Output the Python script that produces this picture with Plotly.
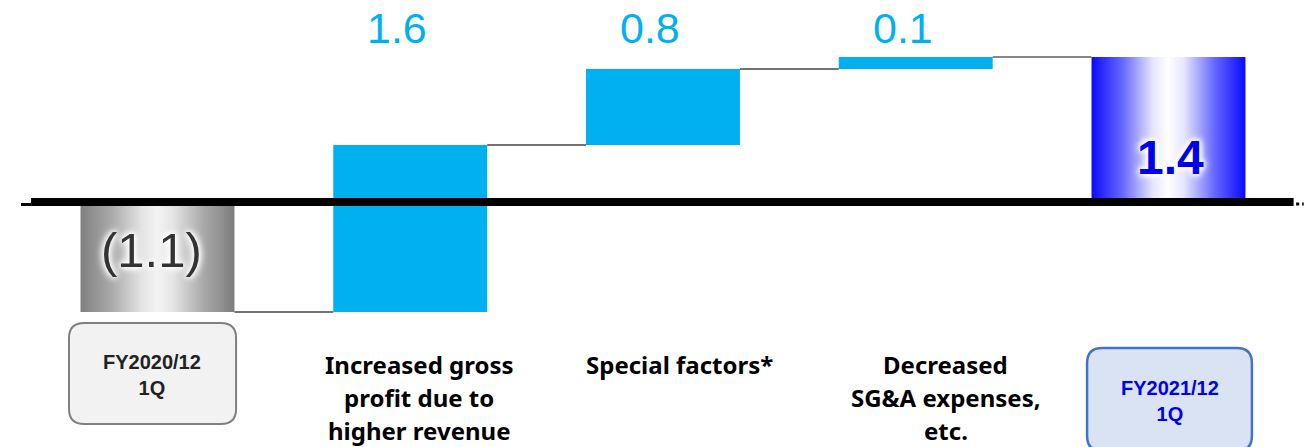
import numpy as np
import plotly.graph_objects as go

# ---- data ----
categories = ["FY2020/12<br>1Q",
              "Increased gross<br>profit due to<br>higher revenue",
              "Special factors*",
              "Decreased<br>SG&A expenses,<br>etc.",
              "FY2021/12<br>1Q"]
start_value = -1.1
delta_values = [1.67, 0.76, 0.12]
total_value = 1.45
value_labels = ["(1.1)", "1.6", "0.8", "0.1", "1.4"]

# ---- derived ----
W = 0.609
levels = np.cumsum([start_value] + delta_values)      # level after each bar
bases = levels[:-1]
xs = np.arange(len(categories))

CYAN = "#00B0F0"
NARROW = "Liberation Sans Narrow, Arial Narrow, Liberation Sans, Arial"

fig = go.Figure()

def grad_bar(xc, y0, y1, scale):
    return go.Scatter(
        x=[xc - W / 2, xc + W / 2, xc + W / 2, xc - W / 2, xc - W / 2],
        y=[y0, y0, y1, y1, y0],
        mode="lines", fill="toself",
        line=dict(width=0, color="rgba(0,0,0,0)"),
        fillgradient=dict(type="horizontal", colorscale=scale),
        hoverinfo="skip", showlegend=False)

grey_scale = [[0, "#808080"], [0.2, "#a9a9a9"], [0.4, "#e4e4e4"], [0.5, "#f3f3f3"],
              [0.6, "#e4e4e4"], [0.8, "#a9a9a9"], [1, "#7c7c7c"]]
blue_scale = [[0, "#0a0aff"], [0.2, "#6666ff"], [0.4, "#e6e6ff"], [0.5, "#ffffff"],
              [0.6, "#e6e6ff"], [0.8, "#6666ff"], [1, "#0a0aff"]]

fig.add_trace(grad_bar(xs[0], 0, start_value, grey_scale))
fig.add_trace(grad_bar(xs[-1], 0, total_value, blue_scale))

fig.add_trace(go.Bar(x=xs[1:4], y=delta_values, base=bases, width=W,
                     marker=dict(color=CYAN, line=dict(width=0)),
                     hoverinfo="skip", showlegend=False))

# connectors
conn_levels = list(levels)
for i, lv in enumerate(conn_levels):
    col = "#888888" if i == len(conn_levels) - 1 else "#444444"
    wd = 2 if i == len(conn_levels) - 1 else 1.3
    fig.add_trace(go.Scatter(x=[xs[i] + W / 2, xs[i + 1] - W / 2], y=[lv, lv],
                             mode="lines", line=dict(color=col, width=wd),
                             hoverinfo="skip", showlegend=False))

shapes = []
# zero line
shapes.append(dict(type="line", xref="x", yref="y", x0=-0.5, x1=4.495, y0=0, y1=0,
                   line=dict(color="black", width=8), layer="above"))
shapes.append(dict(type="line", xref="x", yref="y", x0=-0.54, x1=-0.5, y0=-0.025, y1=-0.025,
                   line=dict(color="black", width=3), layer="above"))
shapes.append(dict(type="line", xref="x", yref="y", x0=4.505, x1=4.535, y0=-0.02, y1=-0.02,
                   line=dict(color="black", width=3, dash="dot"), layer="above"))

def rrect(x0, x1, y0, y1, rx=0.06, ry=0.15):
    return (f"M {x0+rx},{y1} L {x1-rx},{y1} Q {x1},{y1} {x1},{y1-ry} "
            f"L {x1},{y0+ry} Q {x1},{y0} {x1-rx},{y0} L {x0+rx},{y0} "
            f"Q {x0},{y0} {x0},{y0+ry} L {x0},{y1-ry} Q {x0},{y1} {x0+rx},{y1} Z")

shapes.append(dict(type="path", xref="x", yref="y",
                   path=rrect(xs[0] - 0.350, xs[0] + 0.311, -2.22, -1.21),
                   fillcolor="#F2F2F2", line=dict(color="#808080", width=2), layer="below"))
shapes.append(dict(type="path", xref="x", yref="y",
                   path=rrect(xs[4] - 0.322, xs[4] + 0.330, -2.49, -1.46),
                   fillcolor="#DAE3F3", line=dict(color="#4472C4", width=2.5), layer="below"))

ann = []
glow = "0px 0px 6px #ffffff, 0px 0px 8px #ffffff, 0px 0px 10px #ffffff, 0px 0px 4px #ffffff"
# start / total labels
ann.append(dict(x=xs[0], y=start_value * 0.5, text=value_labels[0], showarrow=False,
                xshift=-6, yshift=7,
                font=dict(family=NARROW, size=49, color="#333333", shadow=glow)))
ann.append(dict(x=xs[4], y=total_value * 0.31, text=value_labels[4], showarrow=False,
                xshift=2,
                font=dict(family=NARROW, size=48, color="#0000EE", weight="bold", shadow=glow)))
# delta labels
for i in range(1, 4):
    ann.append(dict(x=xs[i], y=1.73, text=value_labels[i], showarrow=False, xshift=-13,
                    yshift=1,
                    font=dict(family=NARROW, size=43, color=CYAN)))

# category labels (one annotation per line for wider line pitch)
cat_shift = [0, 9, 17, 30, 0]
LINE_PITCH = 33
for i in range(1, 4):
    for j, line in enumerate(categories[i].split("<br>")):
        ann.append(dict(x=xs[i], y=1 - 364 / 447, xref="x", yref="paper", yanchor="middle",
                        text=line, showarrow=False, xshift=cat_shift[i],
                        yshift=-j * LINE_PITCH,
                        font=dict(family="Noto Sans", size=24, color="black", weight="bold")))
ann.append(dict(x=xs[0] - 0.02, y=-1.725, text=categories[0], showarrow=False,
                font=dict(family="Liberation Sans, Arial", size=20, color="#222222", weight="bold")))
ann.append(dict(x=xs[4] + 0.004, y=-1.99, text=categories[4], showarrow=False,
                font=dict(family="Liberation Sans, Arial", size=20, color="#0000EE", weight="bold")))

fig.update_layout(
    width=1307, height=447,
    margin=dict(l=0, r=0, t=0, b=0),
    paper_bgcolor="white", plot_bgcolor="white",
    showlegend=False, barmode="overlay",
    shapes=shapes, annotations=ann,
    xaxis=dict(range=[-0.623, 4.548], visible=False, fixedrange=True),
    yaxis=dict(range=[-2.45, 2.02], visible=False, fixedrange=True),
)

fig.write_html("out.html")
